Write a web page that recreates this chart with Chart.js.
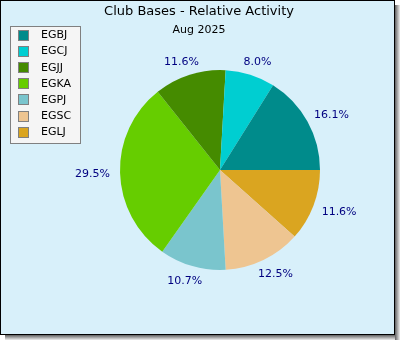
<!DOCTYPE html>
<html>
<head>
<meta charset="utf-8">
<script src="https://cdn.jsdelivr.net/npm/chart.js@4"></script>
<style>
  body { margin: 0; background: #ffffff; }
  canvas { display: block; }
</style>
</head>
<body>
<canvas id="pie" width="400" height="340"></canvas>
<script>
// données du graphique
var bases = ['EGBJ', 'EGCJ', 'EGJJ', 'EGKA', 'EGPJ', 'EGSC', 'EGLJ'];
var activity = [16.1, 8.0, 11.6, 29.5, 10.7, 12.5, 11.6];
var colors = ['#008b8b', '#00ced1', '#458b00', '#66cd00', '#7ac5cd', '#eec591', '#daa520'];
var titleText = 'Club Bases - Relative Activity';
var subTitle = 'Aug 2025';

// chart.js tourne dans le sens horaire, la référence dans l'autre sens
var revLabels = bases.slice().reverse();
var revValues = activity.slice().reverse();
var revColors = colors.slice().reverse();

var fontFamily = '"DejaVu Sans", Verdana, sans-serif';

// fond, cadre, ombre, titres
const framePlugin = {
    id: 'frame',
    beforeDraw: function(chart) {
        var ctx = chart.ctx;
        ctx.save();
        // ombre
        var shades = ['#6e6e6e', '#8c8c8c', '#a8a8a8', '#c4c4c4', '#e0e0e0'];
        for (var i = 0; i < shades.length; i++) {
            ctx.fillStyle = shades[i];
            ctx.fillRect(395 + i, 5, 1, 335);
            ctx.fillRect(5, 335 + i, 395 - 5 + 0, 1);
        }
        ctx.fillStyle = '#d8f0fa';
        ctx.fillRect(0, 0, 395, 335);
        ctx.strokeStyle = '#000000';
        ctx.lineWidth = 1;
        ctx.strokeRect(0.5, 0.5, 394, 334);

        ctx.fillStyle = '#000000';
        ctx.textAlign = 'center';
        ctx.textBaseline = 'middle';
        ctx.font = '13px ' + fontFamily;
        ctx.fillText(titleText, 199, 12);
        ctx.font = '11px ' + fontFamily;
        ctx.fillText(subTitle, 199, 30);
        ctx.restore();
    },
    afterDraw: function(chart) {
        var ctx = chart.ctx;
        ctx.save();
        // légende
        ctx.fillStyle = '#f5f5f5';
        ctx.fillRect(10, 26, 71, 118);
        ctx.strokeStyle = '#808080';
        ctx.lineWidth = 1;
        ctx.strokeRect(10.5, 26.5, 70, 117);
        ctx.font = '11px ' + fontFamily;
        ctx.textAlign = 'left';
        ctx.textBaseline = 'middle';
        for (var i = 0; i < bases.length; i++) {
            var cy = 35.5 + i * 16.1;
            ctx.fillStyle = colors[i];
            ctx.fillRect(19, Math.round(cy - 4.5), 9, 9);
            ctx.strokeStyle = '#808080';
            ctx.strokeRect(18.5, Math.round(cy - 4.5) - 0.5, 10, 10);
            ctx.fillStyle = '#000000';
            ctx.fillText(bases[i], 41, cy);
        }

        // pourcentages
        var meta = chart.getDatasetMeta(0);
        ctx.fillStyle = '#000080';
        ctx.textAlign = 'center';
        meta.data.forEach(function(arc, idx) {
            var a = (arc.startAngle + arc.endAngle) / 2;
            var r = arc.outerRadius + 10;
            var txt = revValues[idx].toFixed(1) + '%';
            var w = ctx.measureText(txt).width;
            var h = 9;
            var px = arc.x + r * Math.cos(a) + (w / 2) * Math.cos(a);
            var py = arc.y + 1 + r * Math.sin(a) + (h / 2) * Math.sin(a);
            ctx.fillText(txt, px, py);
        });
        ctx.restore();
    }
};

const pieConfig = {
    type: 'pie',
    data: {
        labels: revLabels,
        datasets: [
            {
                data: revValues,
                backgroundColor: revColors,
                borderWidth: 0,
            },
        ],
    },
    options: {
        responsive: false,
        animation: false,
        rotation: 90,
        layout: {
            padding: { left: 120, right: 80, top: 70, bottom: 70 }
        },
        plugins: {
            legend: { display: false },
            title: { display: false },
            tooltip: { enabled: false },
        },
    },
    plugins: [framePlugin],
};

const pieCtx = document.getElementById('pie');
window.myPie = new Chart(pieCtx, pieConfig);
</script>
</body>
</html>
